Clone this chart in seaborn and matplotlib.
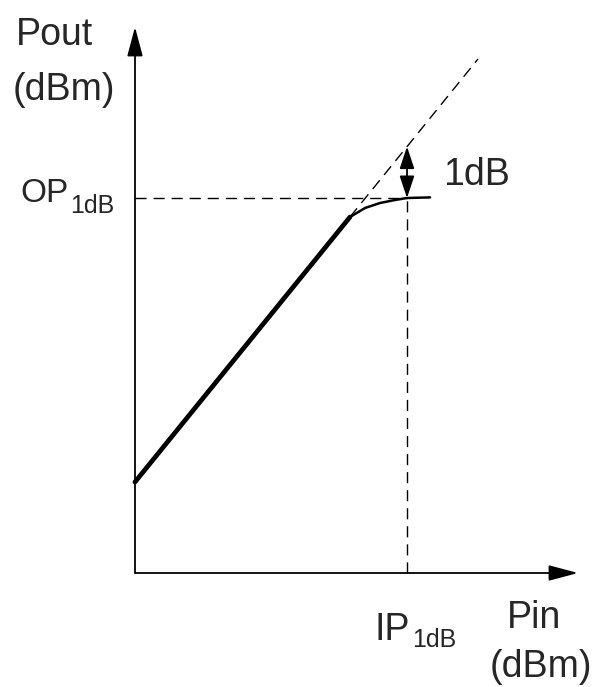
import numpy as np
import pandas as pd
import seaborn as sns
import matplotlib.pyplot as plt

# values in arbitrary dB units (origin at the axis corner)
pin_lin = [0.0, 5.375]
pout_lin = [2.275, 8.9]
pin_ideal = [5.375, 8.575]
pout_ideal = [8.9, 12.85]
pin_comp = [5.375, 5.75, 6.125, 6.5, 6.8, 7.375]
pout_comp = [8.9, 9.125, 9.25, 9.325, 9.375, 9.39]
ip1db = 6.8
op1db = 9.375
ideal_at_ip = 10.66

sns.set_theme(style='white')
plt.rcParams['font.family'] = ['Liberation Sans', 'DejaVu Sans']

fig = plt.figure(figsize=(5.93, 6.87), dpi=100)
ax = fig.add_axes([0, 0, 1, 1])
ax.set_xlim(-135 / 40, 458 / 40)
ax.set_ylim(-114 / 40, 573 / 40)
ax.axis('off')

lin = pd.DataFrame({'pin': pin_lin, 'pout': pout_lin})
comp = pd.DataFrame({'pin': pin_comp, 'pout': pout_comp})
ideal = pd.DataFrame({'pin': pin_ideal, 'pout': pout_ideal})

sns.lineplot(data=lin, x='pin', y='pout', ax=ax, color='black', lw=3.4,
             solid_capstyle='round')
sns.lineplot(data=comp, x='pin', y='pout', ax=ax, color='black', lw=1.8)
sns.lineplot(data=ideal, x='pin', y='pout', ax=ax, color='black', lw=1.0,
             dashes=False, linestyle=(0, (8, 5)))

# guide lines
ax.plot([0, ip1db], [op1db, op1db], color='black', lw=1.0, linestyle=(0, (8, 5)))
ax.plot([ip1db, ip1db], [0, op1db], color='black', lw=1.0, linestyle=(0, (8, 5)))

# axes with arrows
axis_style = dict(arrowstyle='-|>,head_length=0.6,head_width=0.16', color='black',
                  lw=1.3, mutation_scale=30, shrinkA=0, shrinkB=0)
ax.annotate('', xy=(0, 13.65), xytext=(0, 0), arrowprops=axis_style)
ax.annotate('', xy=(11.075, 0), xytext=(0, 0), arrowprops=axis_style)

# 1dB double arrow
ax.annotate('', xy=(ip1db, op1db), xytext=(ip1db, ideal_at_ip),
            arrowprops=dict(arrowstyle='<|-|>,head_length=0.45,head_width=0.15',
                            color='black', lw=1.3, mutation_scale=30,
                            shrinkA=0, shrinkB=0))

fs = 27
ax.text(-2.0, 13.2, 'Pout', fontsize=fs, ha='center', va='baseline')
ax.text(-1.775, 11.825, '(dBm)', fontsize=fs, ha='center', va='baseline')
ax.text(7.7, 9.7, '1dB', fontsize=fs, ha='left', va='baseline')
ax.text(9.3, -1.375, 'Pin', fontsize=fs, ha='left', va='baseline')
ax.text(10.15, -2.6, '(dBm)', fontsize=fs, ha='center', va='baseline')

op = ax.text(-2.875, 9.275, 'OP', fontsize=24, ha='left', va='baseline')
ax.annotate('1dB', xy=(1, 0), xycoords=op, xytext=(1, -3),
            textcoords='offset points', fontsize=18, ha='left', va='baseline')
ip = ax.text(6.0, -1.675, 'IP', fontsize=fs, ha='left', va='baseline')
ax.annotate('1dB', xy=(1, 0), xycoords=ip, xytext=(1, 0.7),
            textcoords='offset points', fontsize=18, ha='left', va='baseline')

fig.savefig('out.png', dpi=100)
